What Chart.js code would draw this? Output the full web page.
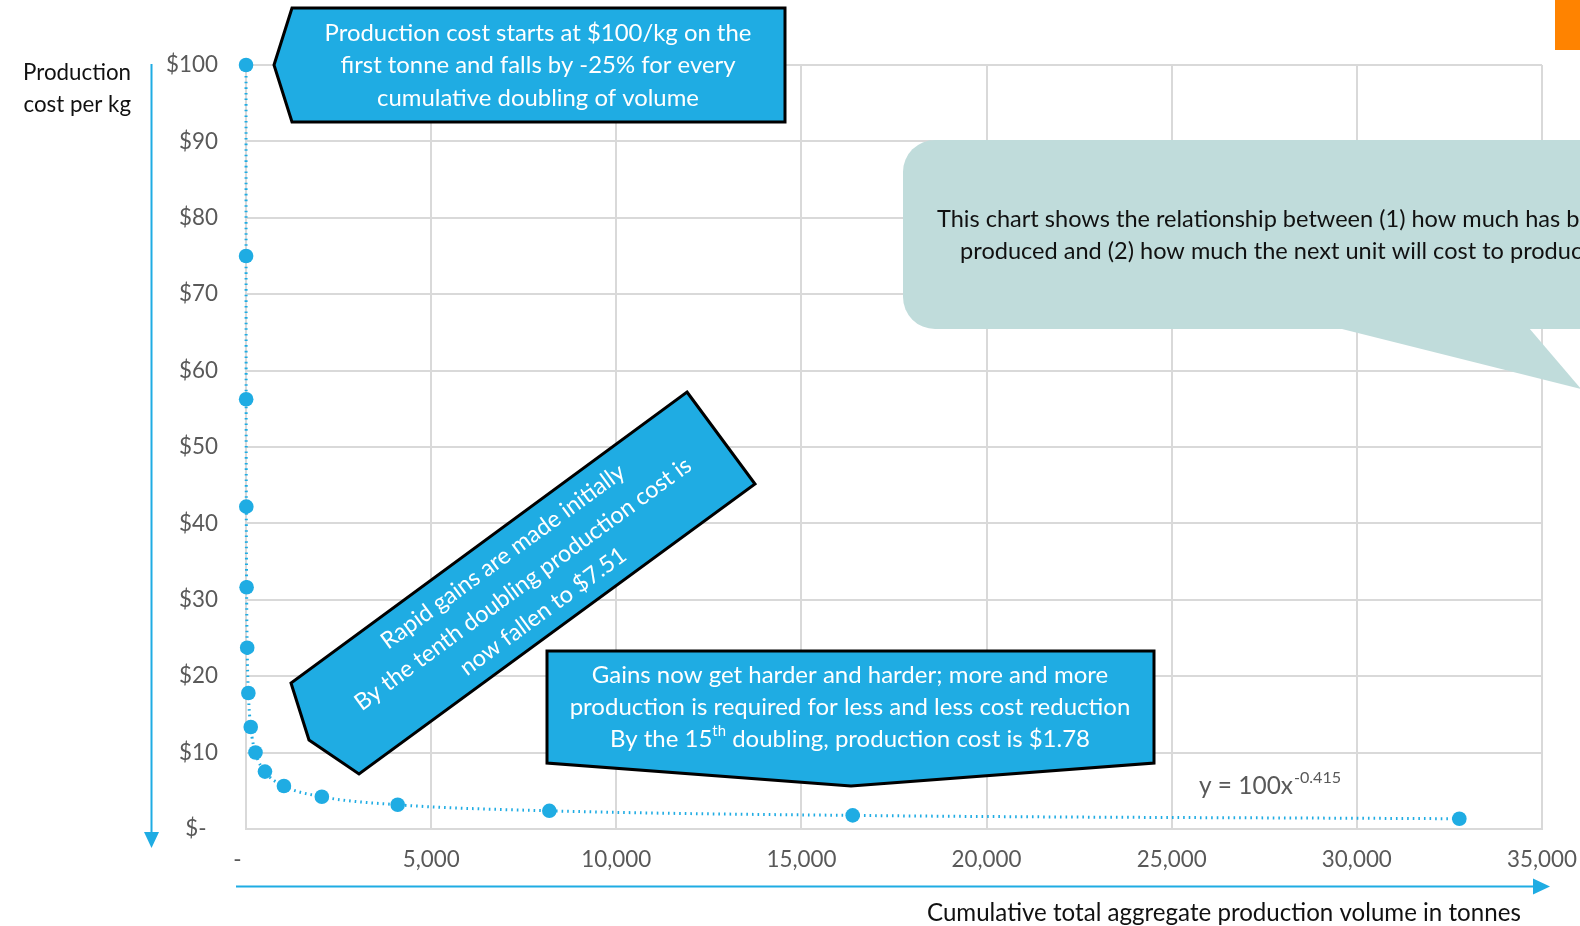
<!DOCTYPE html>
<html>
<head>
<meta charset="utf-8">
<script src="https://cdn.jsdelivr.net/npm/chart.js@4/dist/chart.umd.min.js"></script>
<style>
  html, body { margin: 0; padding: 0; background: #fff; }
  #wrap { width: 1580px; height: 926px; position: relative; }
</style>
</head>
<body>
<div id="wrap"><canvas id="chart" width="1580" height="926"></canvas></div>
<script>
// data: cost per kg at each cumulative doubling of volume
const volumes = [1, 2, 4, 8, 16, 32, 64, 128, 256, 512, 1024, 2048, 4096, 8192, 16384, 32768];
const costs = [100, 75, 56.25, 42.19, 31.64, 23.73, 17.80, 13.35, 10.01, 7.51, 5.63, 4.22, 3.17, 2.38, 1.78, 1.34];
const xTicks = [0, 5000, 10000, 15000, 20000, 25000, 30000, 35000];
const yTicks = [0, 10, 20, 30, 40, 50, 60, 70, 80, 90, 100];
const yTitle = ['Production', 'cost per kg'];
const xTitle = 'Cumulative total aggregate production volume in tonnes';
const trendText = ['y = 100x', '-0.415'];

const FONT = 'Lato, "Open Sans", sans-serif';
const BLUE = '#1FACE3';
const GRID = '#d9d9d9';
const TICK = '#595959';

// measure helper, gives the font size that makes `text` span `width` px
const mctx = document.createElement('canvas').getContext('2d');
function fitSize(text, width){
  mctx.font = '100px ' + FONT;
  return 100 * width / mctx.measureText(text).width;
}
const tickSize = fitSize('35,000', 70);

function poly(ctx, pts, fill, stroke, lw){
  ctx.beginPath();
  ctx.moveTo(pts[0][0], pts[0][1]);
  for(let i=1;i<pts.length;i++) ctx.lineTo(pts[i][0], pts[i][1]);
  ctx.closePath();
  ctx.fillStyle = fill; ctx.fill();
  if(stroke){ ctx.lineWidth = lw; ctx.strokeStyle = stroke; ctx.lineJoin = 'miter'; ctx.stroke(); }
}

// runs of text with optional superscript parts, centred at cx
function drawRuns(ctx, runs, cx, cy, size, color){
  let total = 0;
  const ws = runs.map(r => { ctx.font = (r.sup ? size*0.62 : size) + 'px ' + FONT; const w = ctx.measureText(r.t).width; total += w; return w; });
  let x = cx - total/2;
  ctx.fillStyle = color; ctx.textAlign = 'left'; ctx.textBaseline = 'middle';
  runs.forEach((r,i) => {
    ctx.font = (r.sup ? size*0.62 : size) + 'px ' + FONT;
    ctx.fillText(r.t, x, r.sup ? cy - size*0.33 : cy);
    x += ws[i];
  });
}

const decorations = {
  id: 'decorations',
  afterDatasetsDraw(chart){
    const ctx = chart.ctx;
    ctx.save();

    // axis arrows
    ctx.strokeStyle = BLUE; ctx.fillStyle = BLUE; ctx.lineWidth = 2;
    ctx.beginPath(); ctx.moveTo(151.5, 64); ctx.lineTo(151.5, 834); ctx.stroke();
    poly(ctx, [[144, 832], [159, 832], [151.5, 848]], BLUE);
    ctx.beginPath(); ctx.moveTo(236, 886.5); ctx.lineTo(1535, 886.5); ctx.stroke();
    poly(ctx, [[1533, 878.5], [1533, 894.5], [1550, 886.5]], BLUE);

    // axis titles
    let s = fitSize(yTitle[0], 108);
    ctx.font = s + 'px ' + FONT; ctx.fillStyle = '#111'; ctx.textAlign = 'right'; ctx.textBaseline = 'middle';
    ctx.fillText(yTitle[0], 131, 72.5);
    ctx.fillText(yTitle[1], 131, 105);
    s = fitSize(xTitle, 594);
    ctx.font = s + 'px ' + FONT; ctx.textAlign = 'left';
    ctx.fillText(xTitle, 927, 913);

    // trendline equation
    s = fitSize(trendText[0], 94);
    ctx.font = s + 'px ' + FONT; ctx.fillStyle = TICK;
    ctx.fillText(trendText[0], 1199, 786);
    const w0 = ctx.measureText(trendText[0]).width;
    ctx.font = (s*0.66) + 'px ' + FONT;
    ctx.fillText(trendText[1], 1199 + w0 + 1, 778);

    // top callout
    poly(ctx, [[274, 65], [292, 8], [785, 8], [785, 122], [292, 122]], BLUE, '#000', 3);
    const top = ['Production cost starts at $100/kg on the', 'first tonne and falls by -25% for every', 'cumulative doubling of volume'];
    s = fitSize(top[0], 427);
    [33, 65.5, 98].forEach((y,i) => drawRuns(ctx, [{t: top[i]}], 538, y, s, '#fff'));

    // rotated callout
    poly(ctx, [[687, 392], [755, 484], [359, 774], [309, 740], [291, 683]], BLUE, '#000', 3);
    const rot = ['Rapid gains are made initially', 'By the tenth doubling production cost is', 'now fallen to $7.51'];
    s = fitSize(rot[1], 411);
    ctx.save();
    ctx.translate(523, 584);
    ctx.rotate(-36.2 * Math.PI / 180);
    [-34, 0, 34].forEach((y,i) => drawRuns(ctx, [{t: rot[i]}], 0, y, s, '#fff'));
    ctx.restore();

    // bottom callout
    poly(ctx, [[547, 651], [1154, 651], [1154, 763], [851, 786], [547, 763]], BLUE, '#000', 3);
    const bot = ['Gains now get harder and harder; more and more', 'production is required for less and less cost reduction'];
    s = fitSize(bot[1], 561);
    drawRuns(ctx, [{t: bot[0]}], 850, 675, s, '#fff');
    drawRuns(ctx, [{t: bot[1]}], 850, 707.5, s, '#fff');
    drawRuns(ctx, [{t: 'By the 15'}, {t: 'th', sup: true}, {t: ' doubling, production cost is $1.78'}], 850, 739, s, '#fff');

    // teal speech bubble (runs off the right edge)
    ctx.fillStyle = '#C0DCDB';
    ctx.beginPath();
    ctx.roundRect(903, 140, 900, 189, 32);
    ctx.fill();
    poly(ctx, [[1338, 328], [1529, 328], [1581, 389]], '#C0DCDB');
    const note = ['This chart shows the relationship between (1) how much has been', 'produced and (2) how much the next unit will cost to produce'];
    s = fitSize('This chart shows the relationship between (1) how much has b', 643);
    ctx.font = s + 'px ' + FONT;
    const cx = 937 + ctx.measureText(note[0]).width / 2;
    drawRuns(ctx, [{t: note[0]}], cx, 219, s, '#111');
    drawRuns(ctx, [{t: note[1]}], cx, 251, s, '#111');

    // orange tab top right
    ctx.fillStyle = '#FF8300';
    ctx.fillRect(1555, 0, 25, 50);

    ctx.restore();
  }
};

const points = volumes.map((v,i) => ({x: v, y: costs[i]}));

new Chart(document.getElementById('chart'), {
  type: 'scatter',
  data: {
    datasets: [
      {
        label: 'Cost per kg',
        data: points,
        pointRadius: 7.3,
        pointBackgroundColor: BLUE,
        pointBorderWidth: 0,
        showLine: false,
        clip: false,
        order: 1
      },
      {
        label: 'Power trendline',
        data: points,
        showLine: true,
        pointRadius: 0,
        borderColor: BLUE,
        borderWidth: 3,
        borderDash: [1.6, 4],
        cubicInterpolationMode: 'monotone',
        clip: false,
        order: 2
      }
    ]
  },
  options: {
    responsive: false,
    animation: false,
    layout: { padding: { left: 0, right: 38, top: 65, bottom: 0 } },
    plugins: { legend: { display: false }, tooltip: { enabled: false } },
    scales: {
      x: {
        type: 'linear', min: xTicks[0], max: xTicks[xTicks.length-1],
        afterFit(sc){ sc.height = 97; sc.paddingLeft = 0; sc.paddingRight = 0; },
        afterBuildTicks(sc){ sc.ticks = xTicks.map(v => ({value: v})); },
        ticks: {
          padding: 17, color: TICK, maxRotation: 0, autoSkip: false,
          font: { family: FONT, size: tickSize },
          callback: v => v === 0 ? '-   ' : v.toLocaleString('en-US')
        },
        grid: { color: GRID, lineWidth: 2, drawTicks: false },
        border: { color: GRID, width: 2 }
      },
      y: {
        type: 'linear', min: yTicks[0], max: yTicks[yTicks.length-1],
        afterFit(sc){ sc.width = 246; sc.paddingTop = 0; sc.paddingBottom = 0; },
        afterBuildTicks(sc){ sc.ticks = yTicks.map(v => ({value: v})); },
        ticks: {
          padding: 28, color: TICK,
          font: { family: FONT, size: tickSize },
          callback: v => v === 0 ? '$-  ' : '$' + v
        },
        grid: { color: GRID, lineWidth: 2, drawTicks: false },
        border: { color: GRID, width: 2 }
      }
    }
  },
  plugins: [decorations]
});
</script>
</body>
</html>
